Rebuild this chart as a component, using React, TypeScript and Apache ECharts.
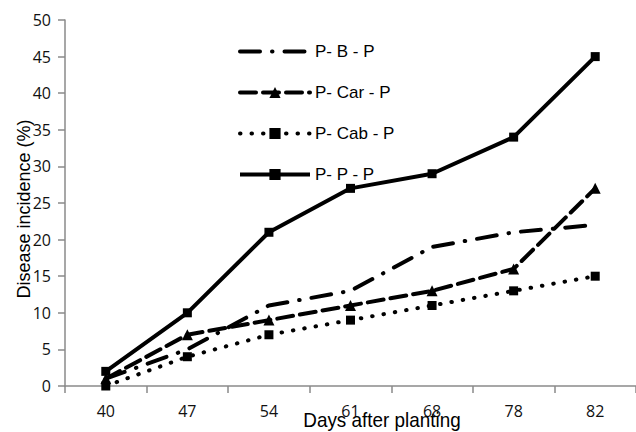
import React, { useEffect, useRef } from "react";
import * as echarts from "echarts";

const days = ["40", "47", "54", "61", "68", "78", "82"];
const pbp = [1, 5, 11, 13, 19, 21, 22];
const pcarp = [1, 7, 9, 11, 13, 16, 27];
const pcabp = [0, 4, 7, 9, 11, 13, 15];
const ppp = [2, 10, 21, 27, 29, 34, 45];
const seriesNames = ["P- B - P", "P- Car - P", "P- Cab - P", "P- P - P"];
const yTicks = { min: 0, max: 50, interval: 5 };

export default function App() {
  const ref = useRef<HTMLDivElement>(null);
  useEffect(() => {
    document.body.style.margin = "0";
    const chart = echarts.init(ref.current!, null, { renderer: "svg" });
    const axisColor = "#8a8a8a";
    chart.setOption({
      animation: false,
      backgroundColor: "#ffffff",
      grid: { left: 65, right: -7, top: 20, bottom: 46 },
      legend: {
        orient: "vertical",
        left: 238,
        top: 43,
        padding: 0,
        itemWidth: 70,
        itemHeight: 14,
        itemGap: 24,
        lineStyle: { width: 4 },
        data: [
          { name: seriesNames[0], itemStyle: { color: "rgba(0,0,0,0)", borderWidth: 0 } },
          { name: seriesNames[1] },
          { name: seriesNames[2] },
          { name: seriesNames[3] },
        ],
        textStyle: { fontFamily: "Liberation Sans", fontSize: 17, color: "#000" },
      },
      xAxis: {
        type: "category",
        data: days,
        boundaryGap: true,
        axisLine: { lineStyle: { color: axisColor, width: 1.5 } },
        axisTick: { show: true, inside: false, length: 7, alignWithLabel: false, lineStyle: { color: axisColor, width: 1.5 } },
        axisLabel: { margin: 17, fontFamily: "Open Sans", fontSize: 16, color: "#111" },
        splitLine: { show: false },
      },
      yAxis: {
        type: "value",
        min: yTicks.min,
        max: yTicks.max,
        interval: yTicks.interval,
        axisLine: { show: true, lineStyle: { color: axisColor, width: 1.5 } },
        axisTick: { show: true, inside: false, length: 7, lineStyle: { color: axisColor, width: 1.5 } },
        axisLabel: { margin: 14, fontFamily: "Open Sans", fontSize: 16, color: "#111" },
        splitLine: { show: false },
      },
      graphic: [
        {
          type: "text",
          x: 24,
          y: 209,
          rotation: Math.PI / 2,
          style: {
            text: "Disease incidence (%)",
            fontFamily: "Liberation Sans",
            fontSize: 18,
            fill: "#000",
            align: "center",
            verticalAlign: "middle",
          },
          z: 100,
        },
        {
          type: "text",
          x: 382,
          y: 420,
          scaleX: 0.9,
          style: {
            text: "Days after planting",
            fontFamily: "Liberation Sans",
            fontSize: 21,
            fill: "#000",
            align: "center",
            verticalAlign: "middle",
          },
          z: 100,
        },
      ],
      series: [
        {
          name: seriesNames[0],
          type: "line",
          data: pbp,
          symbol: "none",
          lineStyle: { color: "#000", width: 4, type: [20, 12, 0.5, 12], cap: "round" },
          itemStyle: { color: "#000" },
        },
        {
          name: seriesNames[1],
          type: "line",
          data: pcarp,
          symbol: "triangle",
          symbolSize: 11,
          lineStyle: { color: "#000", width: 4, type: [16, 7], cap: "round" },
          itemStyle: { color: "#000" },
        },
        {
          name: seriesNames[2],
          type: "line",
          data: pcabp,
          symbol: "rect",
          symbolSize: 9,
          lineStyle: { color: "#000", width: 4, type: [0.5, 11], cap: "round" },
          itemStyle: { color: "#000" },
        },
        {
          name: seriesNames[3],
          type: "line",
          data: ppp,
          symbol: "rect",
          symbolSize: 9,
          lineStyle: { color: "#000", width: 4, type: "solid" },
          itemStyle: { color: "#000" },
        },
      ],
    });
    return () => chart.dispose();
  }, []);
  return <div ref={ref} style={{ width: 636, height: 432 }} />;
}
